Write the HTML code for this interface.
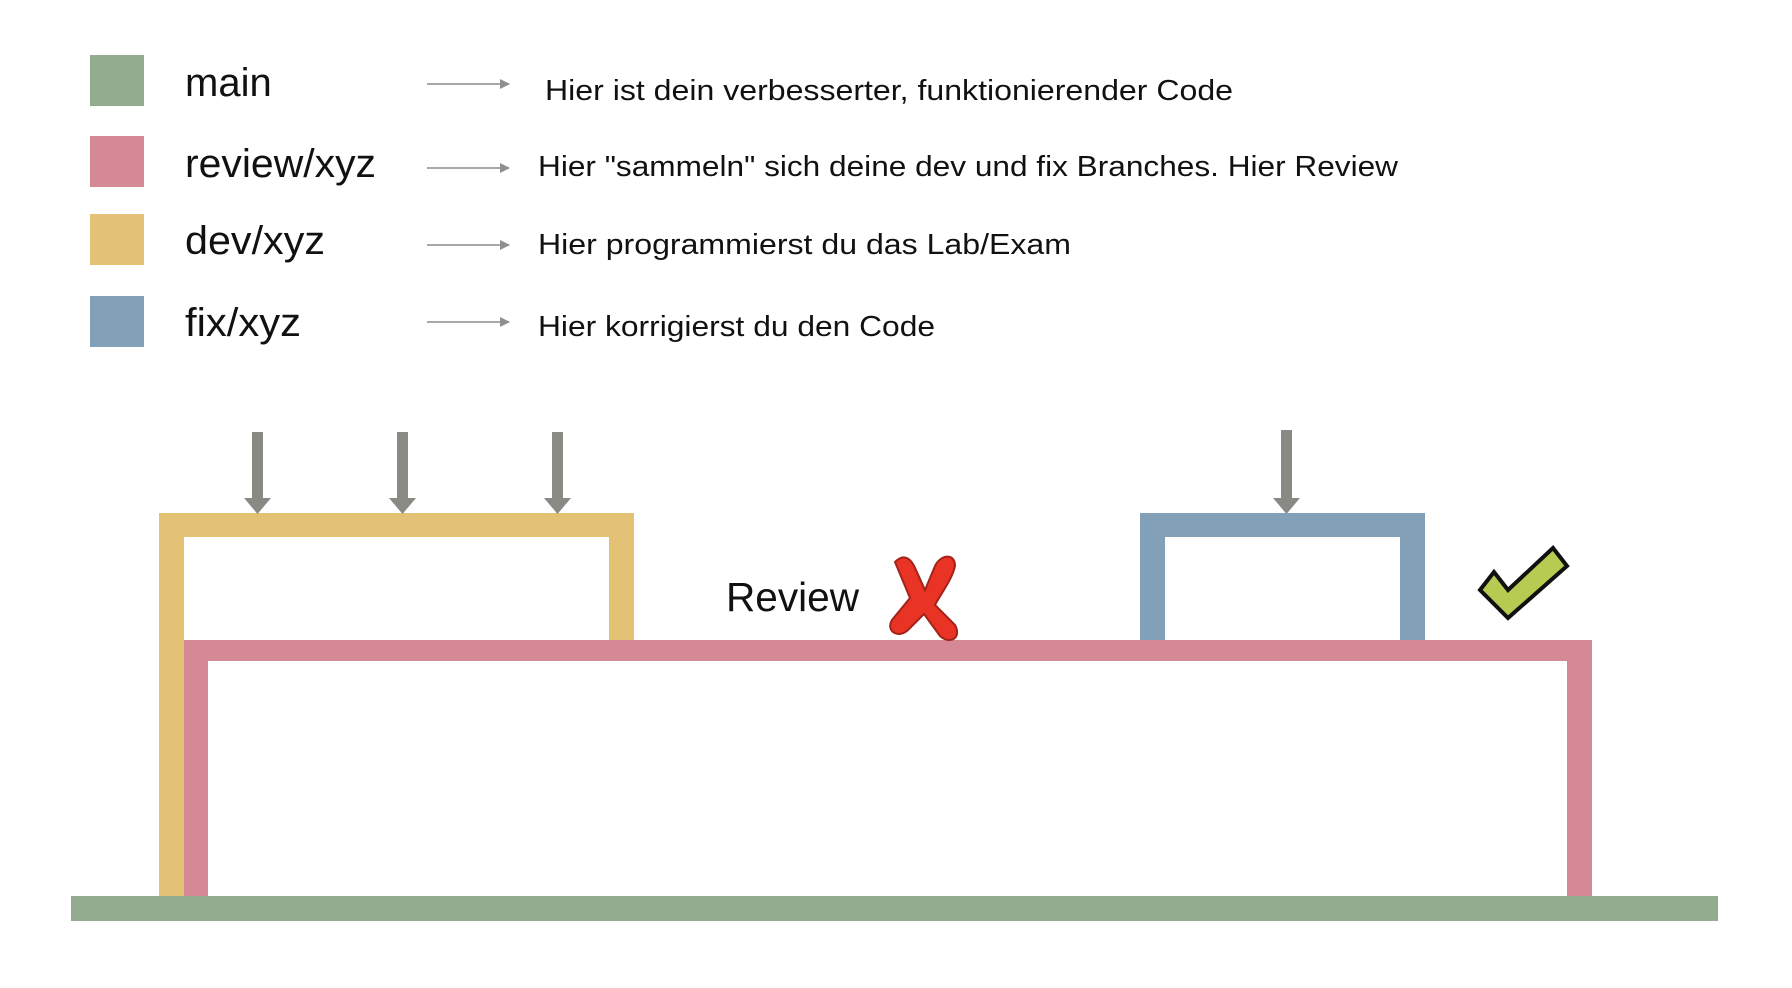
<!DOCTYPE html>
<html><head><meta charset="utf-8"><style>
html,body{margin:0;padding:0;background:#fff;}
svg{display:block;}
text{font-family:"Liberation Sans",sans-serif;fill:#111;}
</style></head><body>
<svg width="1792" height="988" viewBox="0 0 1792 988" xmlns="http://www.w3.org/2000/svg">
<defs>
<marker id="ah" markerWidth="10" markerHeight="10" refX="9" refY="5" orient="auto" markerUnits="userSpaceOnUse">
<path d="M0,0 L10,5 L0,10 z" fill="#8f8f8f"/>
</marker>
</defs>
<!-- legend -->
<rect x="90" y="55" width="54" height="51" fill="#93ab8e"/>
<rect x="90" y="136" width="54" height="51" fill="#d58895"/>
<rect x="90" y="214" width="54" height="51" fill="#e3c175"/>
<rect x="90" y="296" width="54" height="51" fill="#82a1b8"/>
<text x="185" y="96" font-size="40">main</text>
<text x="185" y="177" font-size="40" textLength="191" lengthAdjust="spacingAndGlyphs">review/xyz</text>
<text x="185" y="254" font-size="40" textLength="140" lengthAdjust="spacingAndGlyphs">dev/xyz</text>
<text x="185" y="336" font-size="40" textLength="116" lengthAdjust="spacingAndGlyphs">fix/xyz</text>
<g stroke="#a8a8a8" stroke-width="2" marker-end="url(#ah)">
<line x1="427" y1="84" x2="509" y2="84"/>
<line x1="427" y1="168" x2="509" y2="168"/>
<line x1="427" y1="245" x2="509" y2="245"/>
<line x1="427" y1="322" x2="509" y2="322"/>
</g>
<text x="545" y="100" font-size="29" textLength="688" lengthAdjust="spacingAndGlyphs">Hier ist dein verbesserter, funktionierender Code</text>
<text x="538" y="176" font-size="29" textLength="860" lengthAdjust="spacingAndGlyphs">Hier "sammeln" sich deine dev und fix Branches. Hier Review</text>
<text x="538" y="254" font-size="29" textLength="533" lengthAdjust="spacingAndGlyphs">Hier programmierst du das Lab/Exam</text>
<text x="538" y="336" font-size="29" textLength="397" lengthAdjust="spacingAndGlyphs">Hier korrigierst du den Code</text>
<!-- dev box -->
<path d="M159,896 V513 H634 V640 H609 V537 H184 V896 Z" fill="#e3c175"/>
<!-- fix box -->
<path d="M1140,640 V513 H1425 V640 H1400 V537 H1165 V640 Z" fill="#82a1b8"/>
<!-- review -->
<path d="M184,896 V640 H1592 V901 H1567 V661 H208 V896 Z" fill="#d58895"/>
<!-- main -->
<rect x="71" y="896" width="1647" height="25" fill="#93ab8e"/>
<!-- gray arrows -->
<g fill="#8a8a85">
<path d="M252,432 h11 v66 h8 l-13.5,16 l-13.5,-16 h8 z"/>
<path d="M397,432 h11 v66 h8 l-13.5,16 l-13.5,-16 h8 z"/>
<path d="M552,432 h11 v66 h8 l-13.5,16 l-13.5,-16 h8 z"/>
<path d="M1281,430 h11 v68 h8 l-13.5,16 l-13.5,-16 h8 z"/>
</g>
<text x="726" y="611" font-size="41" textLength="133" lengthAdjust="spacingAndGlyphs">Review</text>
<!-- red X -->
<path d="M895,562 C905,552 912,560 916,570 L925,590 L935,566 C940,555 955,552 955,566 C952,580 940,595 935,605 L955,625 C962,638 950,645 940,636 L924,614 L910,628 C900,640 885,632 892,620 L910,598 Z" fill="#e93325" stroke="#a3231a" stroke-width="2"/>
<!-- check -->
<path d="M1480,590 L1494,572 L1508,590 L1553,548 L1567,566 L1508,618 Z" fill="#b7cb52" stroke="#111" stroke-width="4" stroke-linejoin="miter"/>
</svg>
</body></html>
